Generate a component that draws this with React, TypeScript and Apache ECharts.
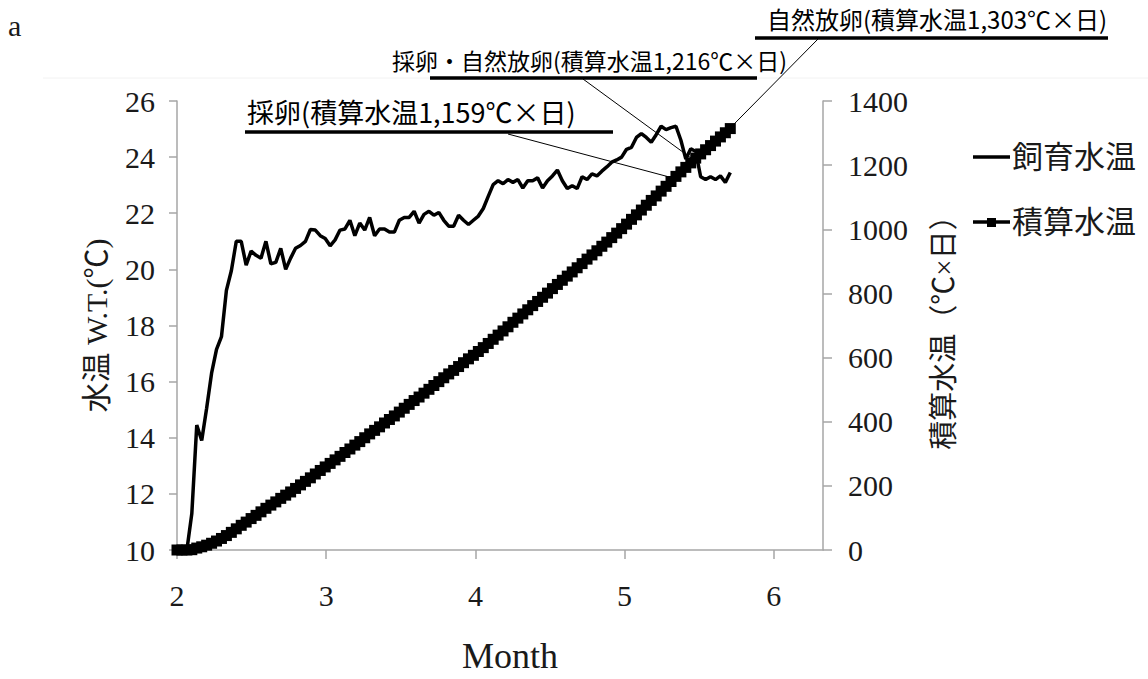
import React, { useEffect, useRef } from "react";
import * as echarts from "echarts";

// 飼育水温 (daily water temperature, °C)
const waterTemp = [
  10, 10, 10, 11.3, 14.45, 13.9, 15.05, 16.3, 17.15, 17.6,
  19.25, 19.95, 21.0, 21.0, 20.15, 20.65, 20.5, 20.4, 21.0, 20.2,
  20.25, 20.75, 20.0, 20.4, 20.75, 20.85, 21.0, 21.42, 21.4, 21.2,
  21.1, 20.84, 21.05, 21.4, 21.44, 21.75, 21.2, 21.65, 21.4, 21.85,
  21.2, 21.44, 21.44, 21.33, 21.33, 21.75, 21.85, 21.85, 22.07, 21.65,
  21.96, 22.07, 21.93, 22.03, 21.75, 21.54, 21.54, 21.93, 21.75, 21.6,
  21.75, 21.9, 22.17, 22.6, 23.02, 23.16, 23.05, 23.2, 23.1, 23.2,
  22.9, 23.16, 23.16, 23.26, 22.9, 23.16, 23.33, 23.54, 23.16, 22.88,
  22.98, 22.88, 23.3, 23.2, 23.4, 23.33, 23.5, 23.65, 23.82, 23.9,
  24.0, 24.28, 24.35, 24.7, 24.84, 24.7, 24.53, 24.8, 25.1, 24.98,
  25.05, 25.1, 24.6, 23.93, 24.3, 24.2, 23.3, 23.2, 23.3, 23.2,
  23.33, 23.1, 23.45,
];

// 積算水温 (accumulated water temperature, °C×日)
const cumTemp = [
  0, 0, 0, 1, 6, 10, 15, 21, 28, 36,
  45, 55, 66, 77, 87, 98, 108, 119, 130, 140,
  150, 161, 171, 181, 192, 203, 214, 225, 237, 248,
  259, 270, 281, 292, 304, 315, 327, 338, 350, 362,
  373, 384, 396, 407, 418, 430, 442, 454, 466, 477,
  489, 501, 513, 525, 537, 549, 560, 572, 584, 596,
  607, 619, 631, 644, 657, 670, 683, 696, 710, 723,
  736, 749, 762, 775, 788, 801, 815, 828, 841, 854,
  867, 880, 893, 907, 920, 933, 947, 960, 974, 988,
  1002, 1016, 1031, 1045, 1060, 1075, 1090, 1104, 1119, 1134,
  1149, 1165, 1179, 1193, 1207, 1222, 1235, 1248, 1261, 1275,
  1288, 1301, 1314,
];

const START_MONTH = 2;
const DAYS_PER_MONTH = 30.2;

const seriesNames = ["飼育水温", "積算水温"];

const annotationTexts = [
  "採卵(積算水温1,159℃×日)",
  "採卵・自然放卵(積算水温1,216℃×日)",
  "自然放卵(積算水温1,303℃×日)",
];
const annotationValues = [1159, 1216, 1303];

// layout of the annotation boxes (pixels)
const annotationLayout = [
  { tx: 247, ty: 111, fs: 27, ux1: 245, ux2: 613, uy: 132, lx: 508, ly: 134 },
  { tx: 392, ty: 60, fs: 23, ux1: 430, ux2: 757, uy: 78, lx: 583, ly: 79 },
  { tx: 767, ty: 18, fs: 24, ux1: 755, ux2: 1108, uy: 38, lx: 818, ly: 39 },
];

const dayToMonth = (i: number) => START_MONTH + i / DAYS_PER_MONTH;

function crossingMonth(value: number): number {
  for (let i = 1; i < cumTemp.length; i++) {
    if (cumTemp[i] >= value) {
      const f = (value - cumTemp[i - 1]) / (cumTemp[i] - cumTemp[i - 1]);
      return dayToMonth(i - 1 + f);
    }
  }
  return dayToMonth(cumTemp.length - 1);
}

const SERIF = "'Liberation Serif', 'Noto Sans CJK JP', serif";
const SANS = "'Noto Sans CJK JP', sans-serif";
const TEXT = "#1a1a1a";
const AXIS = "#a6a6a6";

export default function App() {
  const ref = useRef<HTMLDivElement>(null);

  useEffect(() => {
    if (!ref.current) return;
    const chart = echarts.init(ref.current, undefined, { renderer: "svg" });

    const graphics: any[] = [
      {
        type: "line",
        shape: { x1: 43, y1: 78, x2: 1148, y2: 78 },
        style: { stroke: "#f2f2f2", lineWidth: 1 },
        z: 0,
      },
      {
        type: "text",
        left: 8,
        top: 10,
        style: { text: "a", font: `30px ${SERIF}`, fill: TEXT },
      },
      // legend: 飼育水温
      {
        type: "line",
        shape: { x1: 973, y1: 157, x2: 1010, y2: 157 },
        style: { stroke: "#000", lineWidth: 3.5 },
      },
      {
        type: "text",
        x: 1012,
        y: 157,
        style: {
          text: seriesNames[0],
          font: `31px ${SERIF}`,
          fill: TEXT,
          verticalAlign: "middle",
        },
      },
      // legend: 積算水温
      {
        type: "line",
        shape: { x1: 973, y1: 222, x2: 1010, y2: 222 },
        style: { stroke: "#000", lineWidth: 3.5 },
      },
      {
        type: "rect",
        shape: { x: 987, y: 218, width: 9, height: 9 },
        style: { fill: "#000" },
      },
      {
        type: "text",
        x: 1012,
        y: 222,
        style: {
          text: seriesNames[1],
          font: `31px ${SERIF}`,
          fill: TEXT,
          verticalAlign: "middle",
        },
      },
    ];
    annotationTexts.forEach((t, k) => {
      const L = annotationLayout[k];
      graphics.push({
        type: "text",
        x: L.tx,
        y: L.ty,
        style: {
          text: t,
          font: `${L.fs}px ${SANS}`,
          fill: "#000",
          verticalAlign: "middle",
        },
        z: 10,
      });
      graphics.push({
        type: "line",
        shape: { x1: L.ux1, y1: L.uy, x2: L.ux2, y2: L.uy },
        style: { stroke: "#000", lineWidth: 3.5 },
        z: 10,
      });
    });

    const leaderData = annotationValues.map((v, k) => [
      { x: annotationLayout[k].lx, y: annotationLayout[k].ly },
      { coord: [crossingMonth(v), v] },
    ]);

    chart.setOption({
      animation: false,
      backgroundColor: "#fff",
      grid: { left: 177, right: 325, top: 101, bottom: 122, containLabel: false },
      xAxis: {
        type: "value",
        min: 2,
        max: 6.33,
        interval: 1,
        name: "Month",
        nameLocation: "middle",
        nameGap: 88,
        nameTextStyle: { fontSize: 36, fontFamily: SERIF, color: TEXT, padding: [0, 0, 0, 20] },
        axisLine: { show: true, lineStyle: { color: AXIS, width: 1.5 } },
        axisTick: { show: true, length: 9, lineStyle: { color: AXIS, width: 1.5 } },
        axisLabel: {
          fontSize: 30,
          fontFamily: SERIF,
          color: TEXT,
          margin: 30,
          showMaxLabel: false,
          formatter: (v: number) => (Number.isInteger(v) ? String(v) : ""),
        },
        splitLine: { show: false },
      },
      yAxis: [
        {
          type: "value",
          min: 10,
          max: 26,
          interval: 2,
          position: "left",
          name: "水温 W.T.(℃)",
          nameLocation: "middle",
          nameRotate: 90,
          nameGap: 66,
          nameTextStyle: { fontSize: 30, fontFamily: SERIF, color: TEXT },
          axisLine: { show: true, lineStyle: { color: AXIS, width: 1.5 } },
          axisTick: { show: true, length: 8, lineStyle: { color: AXIS, width: 1.5 } },
          axisLabel: { fontSize: 30, fontFamily: SERIF, color: TEXT, margin: 22 },
          splitLine: { show: false },
        },
        {
          type: "value",
          min: 0,
          max: 1400,
          interval: 200,
          position: "right",
          name: "積算水温（℃×日）",
          nameLocation: "middle",
          nameRotate: 90,
          nameGap: 106,
          nameTextStyle: { fontSize: 29, fontFamily: SERIF, color: TEXT },
          axisLine: { show: true, lineStyle: { color: AXIS, width: 1.5 } },
          axisTick: { show: true, length: 9, lineStyle: { color: AXIS, width: 1.5 } },
          axisLabel: {
            fontSize: 30,
            fontFamily: SERIF,
            color: TEXT,
            margin: 25,
            formatter: (v: number) => String(v),
          },
          splitLine: { show: false },
        },
      ],
      series: [
        {
          name: seriesNames[0],
          type: "line",
          yAxisIndex: 0,
          data: waterTemp.map((v, i) => [dayToMonth(i), v]),
          symbol: "none",
          lineStyle: { color: "#000", width: 3.5 },
          itemStyle: { color: "#000" },
          z: 3,
        },
        {
          name: seriesNames[1],
          type: "line",
          yAxisIndex: 1,
          data: cumTemp.map((v, i) => [dayToMonth(i), v]),
          symbol: "rect",
          symbolSize: 11,
          showAllSymbol: true,
          lineStyle: { color: "#000", width: 4 },
          itemStyle: { color: "#000" },
          z: 2,
          markLine: {
            silent: true,
            symbol: ["none", "none"],
            label: { show: false },
            lineStyle: { color: "#000", width: 1, type: "solid" },
            emphasis: { disabled: true },
            data: leaderData,
          },
        },
      ],
      graphic: graphics,
    });

    return () => chart.dispose();
  }, []);

  return (
    <div
      ref={ref}
      style={{ position: "absolute", left: 0, top: 0, width: 1148, height: 679 }}
    />
  );
}
